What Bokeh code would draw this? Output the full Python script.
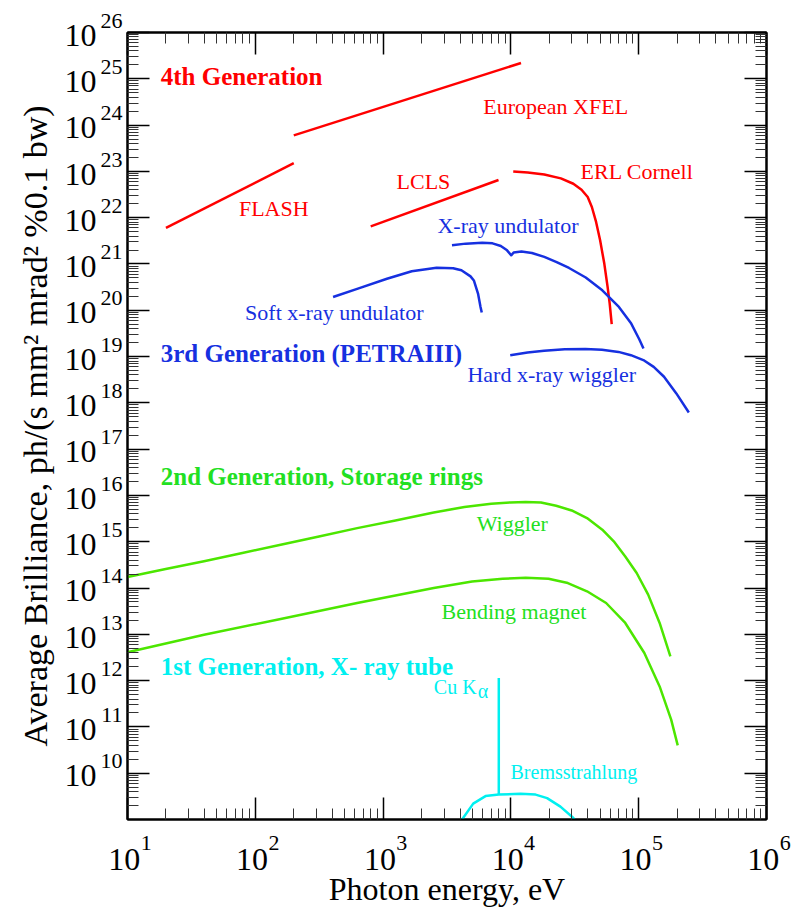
from bokeh.plotting import figure
from bokeh.models import FixedTicker, LogAxis, Range1d, CustomJSTickFormatter, LogScale
from bokeh.embed import file_html
from bokeh.resources import INLINE
from bokeh.core.properties import value

# ---------------- data (photon energy in eV, average brilliance) ----------------
flash_e = [20, 200]
flash_b = [6.0e21, 1.5e23]

xfel_e = [200, 12000]
xfel_b = [6.0e23, 2.2e25]

lcls_e = [800, 8000]
lcls_b = [6.5e21, 6.5e22]

erl_e = [10430, 13550, 18250, 24600, 30800, 35700, 39900, 43000, 46400, 49900, 53800, 57100, 59300, 61500]
erl_b = [1.0e23, 9.5e22, 8.6e22, 7.06e22, 5.4e22, 4.0e22, 2.79e22, 1.70e22, 8.1e21, 3.24e21, 1.02e21,
         3.19e20, 1.39e20, 5.0e19]

xu_e = [3460, 4430, 5960, 7180, 8340, 9330, 10050, 10500, 12100, 14600, 18250, 22800, 28500, 38500,
        51900, 70000, 87400, 101000, 109000]
xu_b = [2.53e21, 2.75e21, 2.89e21, 2.79e21, 2.44e21, 1.97e21, 1.54e21, 1.76e21, 1.85e21, 1.73e21,
        1.42e21, 1.10e21, 8.2e20, 5.1e20, 2.70e20, 1.18e20, 5.15e19, 2.37e19, 1.5e19]

sxu_e = [406, 635, 1072, 1676, 2623, 3533, 4100, 4830, 5130, 5530, 5785, 5915]
sxu_b = [1.94e20, 2.94e20, 4.8e20, 6.95e20, 8.3e20, 8.1e20, 7.3e20, 5.4e20, 4.4e20, 2.3e20, 1.18e20, 8.9e19]

hxw_e = [9880, 13500, 18200, 26400, 38300, 51600, 69500, 86900, 108700, 131000, 157800, 197000, 246700]
hxw_b = [1.07e19, 1.23e19, 1.33e19, 1.43e19, 1.45e19, 1.40e19, 1.26e19, 1.07e19, 8.4e18, 6.0e18,
         3.66e18, 1.6e18, 6.2e17]

wig_e = [10, 19.9, 39.7, 79.2, 158, 315, 627, 1250, 2490, 4330, 7010, 9900, 13060, 17200, 22600,
         29900, 39400, 51900, 63800, 78500, 96400, 118600, 145800, 177000]
wig_b = [1.73e14, 2.57e14, 3.77e14, 5.7e14, 8.6e14, 1.30e15, 1.97e15, 2.88e15, 4.3e15, 5.6e15, 6.6e15,
         7.06e15, 7.18e15, 7.06e15, 5.98e15, 4.74e15, 3.24e15, 1.82e15, 1.02e15, 4.8e14, 2.11e14,
         7.2e13, 1.76e13, 3.35e12]

bm_e = [10, 39.7, 158, 627, 2490, 4970, 8630, 13060, 19700, 27900, 39400, 55600, 78500, 110700,
        145800, 179500, 202000]
bm_b = [4.1e12, 9.8e12, 2.14e13, 4.75e13, 1.0e14, 1.39e14, 1.59e14, 1.67e14, 1.59e14, 1.28e14,
        8.5e13, 4.75e13, 1.76e13, 3.95e12, 7.5e11, 1.44e11, 4.0e10]

cuka_e = [8040, 8040]
cuka_b = [3.45e9, 1.14e12]

brems_e = [4150, 5070, 6330, 8040, 11900, 15600, 19200, 24400, 30700, 31500]
brems_b = [1.0e9, 2.2e9, 3.2e9, 3.45e9, 3.6e9, 3.45e9, 2.9e9, 1.9e9, 1.09e9, 1.0e9]

# tick labels: mantissa "10" and the exponents
x_exps = [1, 2, 3, 4, 5, 6]
y_exps = list(range(10, 27))
tick_base = "10"

# annotation texts and their anchor points (data coords)
bold_texts = ["4th Generation", "3rd Generation (PETRAIII)",
              "2nd Generation, Storage rings", "1st Generation, X- ray tube"]
bold_x = [10 ** 1.26, 10 ** 1.26, 10 ** 1.26, 10 ** 1.26]
bold_y = [10 ** 25.053, 10 ** 19.06, 10 ** 16.408, 10 ** 12.309]
bold_colors = ["#ff0000", "#1630e0", "#22e022", "#00f0f0"]

lab_texts = ["European XFEL", "ERL Cornell", "LCLS", "FLASH", "X-ray undulator",
             "Soft x-ray undulator", "Hard x-ray wiggler", "Wiggler", "Bending magnet"]
lab_x = [10 ** 3.784, 10 ** 4.545, 10 ** 3.105, 10 ** 1.872, 10 ** 3.425,
         10 ** 1.920, 10 ** 3.660, 10 ** 3.732, 10 ** 3.457]
lab_y = [10 ** 24.391, 10 ** 22.988, 10 ** 22.788, 10 ** 22.197, 10 ** 21.838,
         10 ** 19.946, 10 ** 18.615, 10 ** 15.40, 10 ** 13.489]
lab_colors = ["#ff0000", "#ff0000", "#ff0000", "#ff0000", "#1630e0",
              "#1630e0", "#1630e0", "#22e022", "#22e022"]

cyan_texts = ["Cu K", "Bremsstrahlung"]
cyan_x = [10 ** 3.397, 10 ** 3.997]
cyan_y = [10 ** 11.856, 10 ** 10.022]
alpha_x = [10 ** 3.741]
alpha_y = [10 ** 11.77]

# ---------------- figure ----------------
SERIF = "Liberation Serif"
RED, BLUE, GREEN, CYAN = "#ff0000", "#1630e0", "#4ce600", "#00f0f0"
X0, X1, Y0, Y1 = 1e1, 1e6, 1e9, 1e26

p = figure(width=791, height=909, x_axis_type="log", y_axis_type="log",
           x_range=Range1d(X0, X1), y_range=Range1d(Y0, Y1),
           output_backend="svg", toolbar_location=None,
           min_border_left=127, min_border_right=25, min_border_top=32, min_border_bottom=89)
p.background_fill_color = "white"
p.border_fill_color = "white"
p.grid.visible = False
p.outline_line_color = "black"
p.outline_line_width = 2

# y tick labels sit slightly below their tick (shift of 2.7 px)
ys_10 = 10 ** 0.058
p.extra_y_ranges = {"y10": Range1d(Y0 * ys_10, Y1 * ys_10)}
p.extra_y_scales = {"y10": LogScale()}

xticker = FixedTicker(ticks=[10.0 ** k for k in x_exps],
                      minor_ticks=[m * 10.0 ** k for k in range(1, 6) for m in range(2, 10)])
yticker = FixedTicker(ticks=[10.0 ** k for k in y_exps],
                      minor_ticks=[m * 10.0 ** k for k in range(9, 26) for m in range(2, 10)])
xlab_ticker = FixedTicker(ticks=[10.0 ** k for k in x_exps], minor_ticks=[])
ylab_ticker = FixedTicker(ticks=[10.0 ** k for k in y_exps], minor_ticks=[])

blank = CustomJSTickFormatter(code="return '';")
# exponent of x labels: padded on the left so that it sits up-right of the "10"
x_exp_fmt = CustomJSTickFormatter(
    code="return '\\u2003\\u2002\\u2009' + String(Math.round(Math.log10(tick)));")
# exponent of y labels: an empty second line lifts it above the "10"
y_exp_fmt = CustomJSTickFormatter(
    code="return String(Math.round(Math.log10(tick))) + '\\n';")
x_base_fmt = CustomJSTickFormatter(args=dict(base=tick_base), code="return base + '\\u2009';")
y_base_fmt = CustomJSTickFormatter(args=dict(base=tick_base), code="return base;")


def tick_axis(ax, ticker):
    ax.ticker = ticker
    ax.formatter = blank
    ax.axis_line_width = 2
    ax.axis_line_color = "black"
    ax.major_tick_in = 22
    ax.major_tick_out = 0
    ax.minor_tick_in = 11
    ax.minor_tick_out = 0
    ax.major_tick_line_width = 1.5
    ax.minor_tick_line_width = 1
    ax.major_tick_line_color = "black"
    ax.minor_tick_line_color = "#333333"
    ax.major_label_text_font_size = "1px"
    ax.major_label_standoff = 0
    ax.axis_label = None


def label_axis(ax, ticker, fmt, size, standoff):
    ax.ticker = ticker
    ax.formatter = fmt
    ax.axis_line_color = None
    ax.major_tick_line_color = None
    ax.minor_tick_line_color = None
    ax.major_tick_in = 0
    ax.major_tick_out = 0
    ax.minor_tick_in = 0
    ax.minor_tick_out = 0
    ax.major_label_text_font = SERIF
    ax.major_label_text_font_size = size
    ax.major_label_text_color = "black"
    ax.major_label_standoff = standoff


# frame-side tick axes (all four sides)
tick_axis(p.xaxis[0], xticker)
tick_axis(p.yaxis[0], yticker)
top_ax = LogAxis()
right_ax = LogAxis()
tick_axis(top_ax, xticker)
tick_axis(right_ax, yticker)
p.add_layout(top_ax, "above")
p.add_layout(right_ax, "right")

# x tick labels: exponent (inner) and "10" (outer)
x_exp_ax = LogAxis()
label_axis(x_exp_ax, xlab_ticker, x_exp_fmt, "22px", 10)
p.add_layout(x_exp_ax, "below")
x_10_ax = LogAxis()
label_axis(x_10_ax, xlab_ticker, x_base_fmt, "32px", -17)
x_10_ax.axis_label = "Photon energy, eV"
x_10_ax.axis_label_text_font = SERIF
x_10_ax.axis_label_text_font_size = "32px"
x_10_ax.axis_label_text_font_style = "normal"
x_10_ax.axis_label_text_color = "black"
x_10_ax.axis_label_standoff = -9
p.add_layout(x_10_ax, "below")

# y tick labels: exponent (inner) and "10" (outer)
y_exp_ax = LogAxis(y_range_name="y10")
label_axis(y_exp_ax, ylab_ticker, y_exp_fmt, "22px", 5)
p.add_layout(y_exp_ax, "left")
y_10_ax = LogAxis(y_range_name="y10")
label_axis(y_10_ax, ylab_ticker, y_base_fmt, "32px", 1)
y_10_ax.axis_label = "Average Brilliance, ph/(s mm² mrad² %0.1 bw)"
y_10_ax.axis_label_text_font = SERIF
y_10_ax.axis_label_text_font_size = "34px"
y_10_ax.axis_label_text_font_style = "normal"
y_10_ax.axis_label_text_color = "black"
y_10_ax.axis_label_standoff = 8
p.add_layout(y_10_ax, "left")

# ---------------- curves ----------------
LW = 2.5
for xs, ys, c in [(flash_e, flash_b, RED), (xfel_e, xfel_b, RED), (lcls_e, lcls_b, RED),
                  (erl_e, erl_b, RED),
                  (xu_e, xu_b, BLUE), (sxu_e, sxu_b, BLUE), (hxw_e, hxw_b, BLUE),
                  (wig_e, wig_b, GREEN), (bm_e, bm_b, GREEN),
                  (cuka_e, cuka_b, CYAN), (brems_e, brems_b, CYAN)]:
    p.line(xs, ys, line_color=c, line_width=LW, line_join="round", line_cap="butt")

# ---------------- texts ----------------
p.text(x=bold_x, y=bold_y, text=bold_texts, text_color=bold_colors,
       text_font=value(SERIF), text_font_style="bold", text_font_size="25px",
       text_align="left", text_baseline="alphabetic")
p.text(x=lab_x, y=lab_y, text=lab_texts, text_color=lab_colors,
       text_font=value(SERIF), text_font_size="22px",
       text_align="left", text_baseline="alphabetic")
p.text(x=cyan_x, y=cyan_y, text=cyan_texts, text_color=CYAN,
       text_font=value(SERIF), text_font_size="20px",
       text_align="left", text_baseline="alphabetic")
p.text(x=alpha_x, y=alpha_y, text=["α"], text_color=CYAN,
       text_font=value(SERIF), text_font_size="20px",
       text_align="left", text_baseline="alphabetic")

open("out.html", "w", encoding="utf-8").write(file_html(p, INLINE))
